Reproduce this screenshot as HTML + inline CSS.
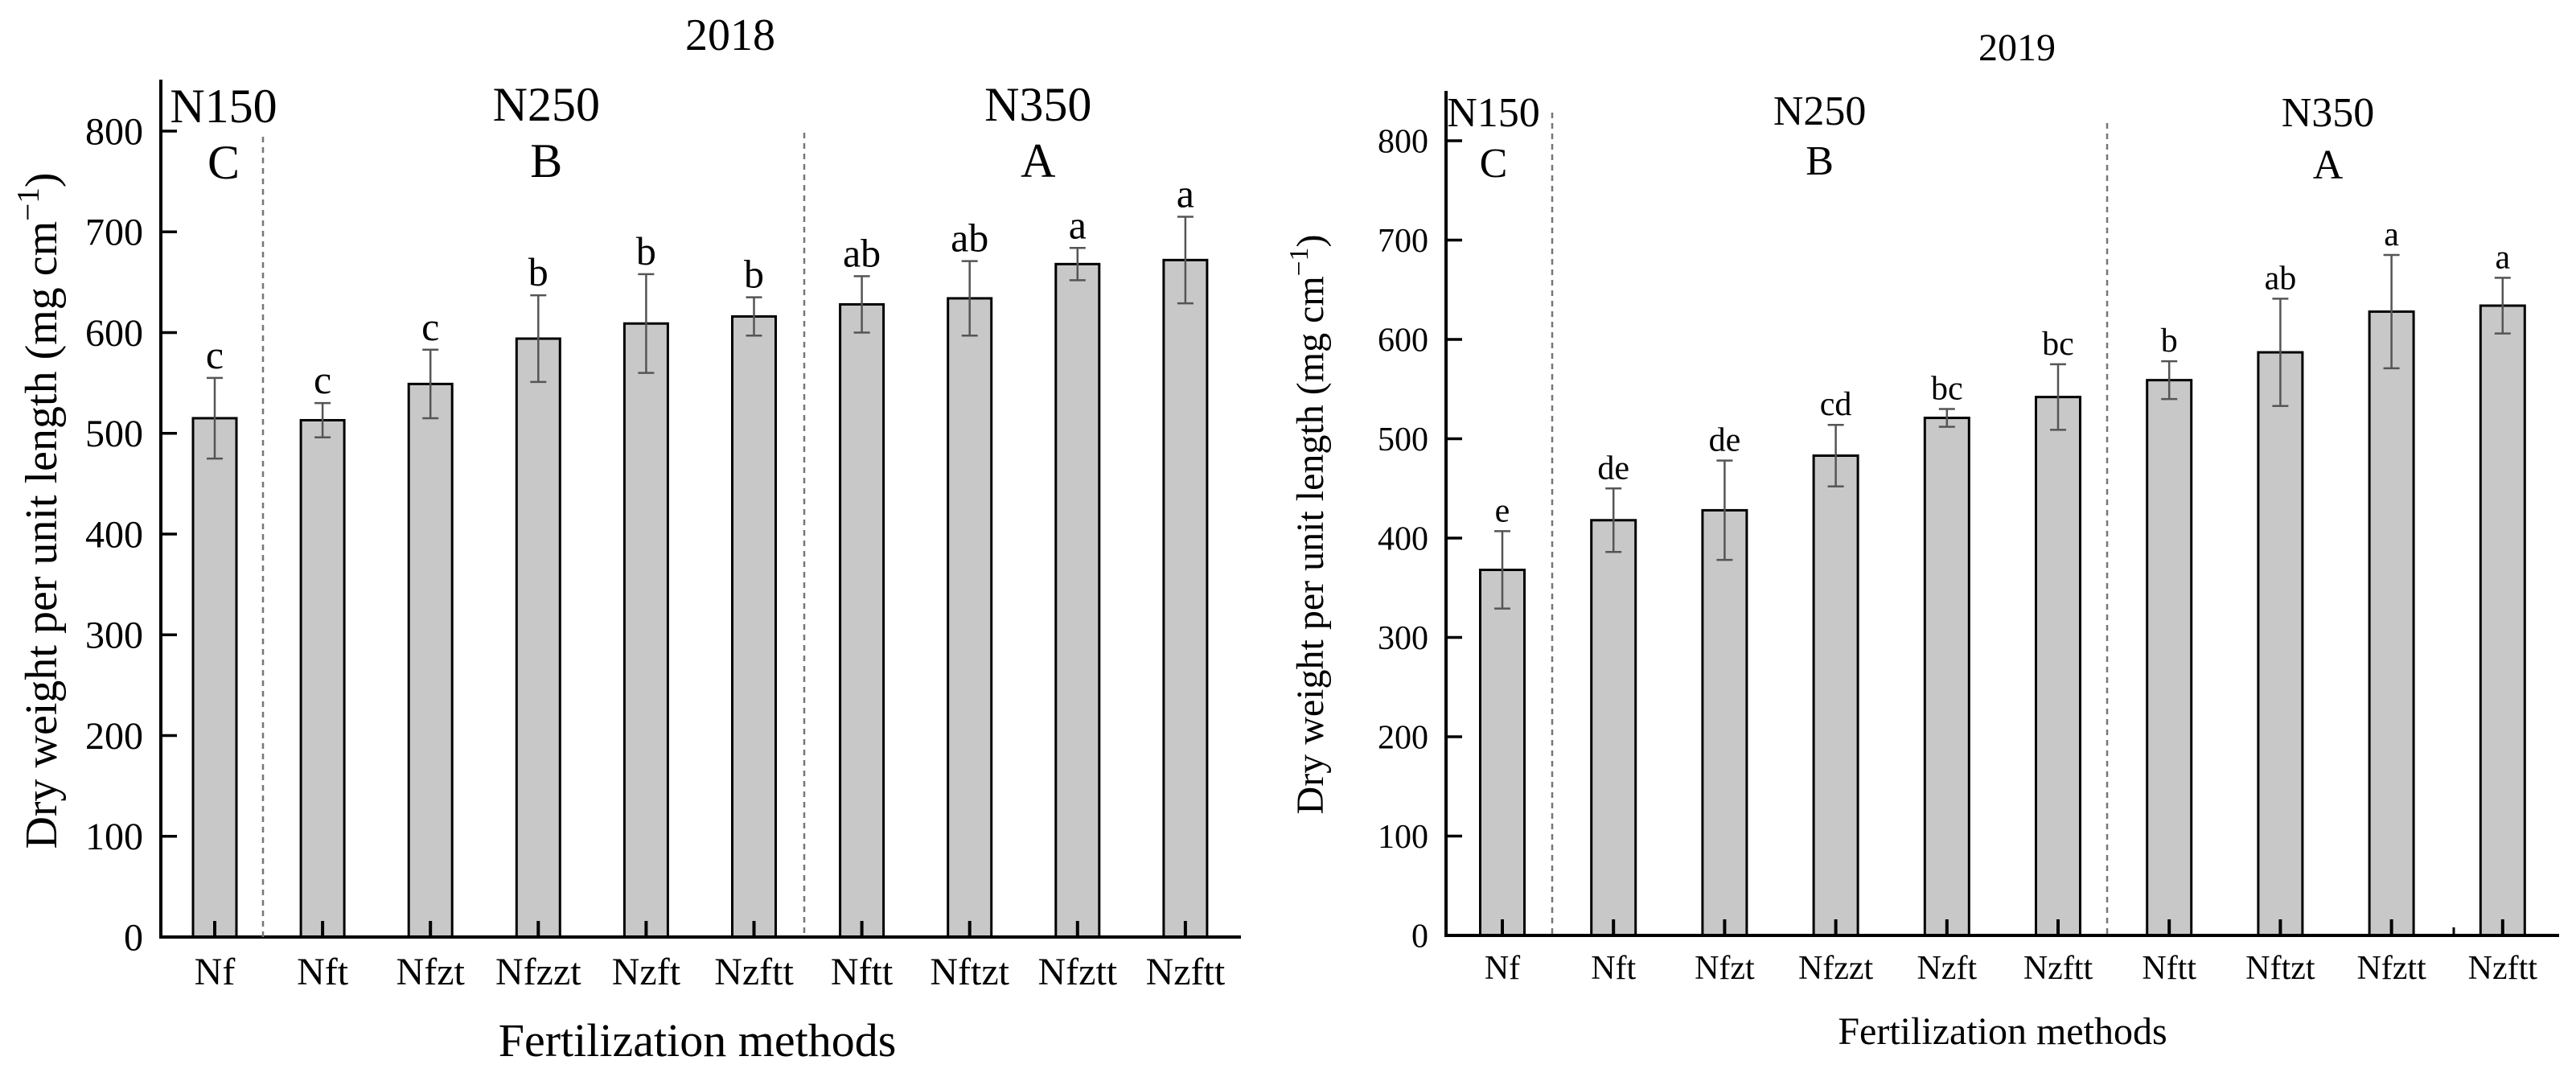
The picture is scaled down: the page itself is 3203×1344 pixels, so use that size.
<!DOCTYPE html>
<html><head><meta charset="utf-8"><style>
body{margin:0;background:#fff}
text{font-family:"Liberation Serif",serif;fill:#000}
</style></head><body>
<svg id="svg" width="3203" height="1339" viewBox="0 0 3203 1339" xmlns="http://www.w3.org/2000/svg"></svg>
<script>
const categories=["Nf","Nft","Nfzt","Nfzzt","Nzft","Nzftt","Nftt","Nftzt","Nfztt","Nzftt"];
const values2018=[515,513,549,594,609,616,628,634,668,672];
const errors2018=[40,17,34,43,49,19,28,37,16,43];
const letters2018=["c","c","c","b","b","b","ab","ab","a","a"];
const values2019=[368,418,428,483,521,542,559,587,628,634];
const errors2019=[39,32,50,31,9,33,19,54,57,28];
const letters2019=["e","de","de","cd","bc","bc","b","ab","a","a"];
const yTicks=[0,100,200,300,400,500,600,700,800];
const groups=[{n:"N150",g:"C",from:0,to:0},{n:"N250",g:"B",from:1,to:5},{n:"N350",g:"A",from:6,to:9}];

const svg=document.getElementById('svg');
const NS="http://www.w3.org/2000/svg";
function mk(tag,attrs,parent,txt){const e=document.createElementNS(NS,tag);for(const k in attrs)e.setAttribute(k,attrs[k]);if(txt!==undefined)e.textContent=txt;(parent||svg).appendChild(e);return e;}

function chart(cfg){
  const g=mk('g',{});
  
  
  const y=v=>cfg.y0-v*cfg.sc;
  const x=i=>cfg.c0+i*cfg.step;
  const t=mk('text',{x:cfg.titleX,y:cfg.titleY,'font-size':cfg.titleFs,'text-anchor':'middle'},g,cfg.title);
  
  
  cfg.vals.forEach((v,i)=>{
    const b=mk('rect',{x:x(i)-cfg.bw/2,y:y(v),width:cfg.bw,height:cfg.y0-y(v),fill:'#c8c8c8',stroke:'#000','stroke-width':3},g);
    
    
    const e=cfg.errs[i];
    const eb=mk('path',{d:`M${x(i)},${y(v+e)}V${y(v-e)}M${x(i)-10},${y(v+e)}H${x(i)+10}M${x(i)-10},${y(v-e)}H${x(i)+10}`,stroke:'#555','stroke-width':2.5,fill:'none'},g);
    
    
    const l=mk('text',{x:x(i),y:y(v+e)-12,'font-size':cfg.letFs,'text-anchor':'middle'},g,cfg.lets[i]);
    
    
    mk('line',{x1:x(i),x2:x(i),y1:cfg.y0,y2:cfg.y0-20,stroke:'#000','stroke-width':4},g);
    const xl=mk('text',{x:x(i),y:cfg.xlY,'font-size':cfg.tickFs,'text-anchor':'middle'},g,categories[i]);
    
    
  });
  const ax=mk('path',{d:`M${cfg.x0},${cfg.top}V${cfg.y0}H${cfg.xEnd}`,stroke:'#000','stroke-width':4,fill:'none'},g);
  
  
  (cfg.extraTicks||[]).forEach(xx=>mk('line',{x1:xx,x2:xx,y1:cfg.y0,y2:cfg.y0-10,stroke:'#000','stroke-width':3},g));
  yTicks.forEach(v=>{
    mk('line',{x1:cfg.x0,x2:cfg.x0+20,y1:y(v),y2:y(v),stroke:'#000','stroke-width':3.5},g);
    const yl=mk('text',{x:cfg.x0-22,y:y(v)+cfg.ytFs*0.34,'font-size':cfg.ytFs,'text-anchor':'end'},g,v);
    
    
  });
  cfg.divs.forEach(d=>{
    const dl=mk('line',{x1:d[0],x2:d[0],y1:d[1],y2:cfg.y0,stroke:'#777','stroke-width':2.5,'stroke-dasharray':'7,6'},g);
    
    
  });
  groups.forEach((gr,k)=>{
    const cx=(x(gr.from)+x(gr.to))/2+(cfg.gOff[k]||0);
    const a=mk('text',{x:cx,y:cfg.gy[k][0],'font-size':cfg.gFs,'text-anchor':'middle'},g,gr.n);
    
    
    const b=mk('text',{x:cx,y:cfg.gy[k][1],'font-size':cfg.gFs,'text-anchor':'middle'},g,gr.g);
    
    
  });
  const xt=mk('text',{x:cfg.xtX,y:cfg.xtY,'font-size':cfg.axFs,'text-anchor':'middle'},g,'Fertilization methods');
  
  
  const yt=mk('text',{x:0,y:0,'font-size':cfg.yFs,'text-anchor':'middle',transform:`translate(${cfg.ytX},${cfg.ytY}) rotate(-90)`},g);
  
  
  yt.appendChild(document.createTextNode('Dry weight per unit length (mg cm'));
  mk('tspan',{dy:-cfg.yFs*0.4,'font-size':cfg.yFs*0.7},yt,'\u2212');
  mk('tspan',{'font-size':cfg.yFs*0.7},yt,'1');
  mk('tspan',{dy:cfg.yFs*0.4},yt,')');
}
chart({name:'chart-2018',title:'2018',titleX:908,titleY:62,titleFs:56,vals:values2018,errs:errors2018,lets:letters2018,
  x0:200,y0:1165,sc:1.2525,top:99,xEnd:1543,c0:267,step:134.1,bw:54,tickFs:48,ytFs:48,letFs:50,gFs:60,xlY:1224,
  divs:[[327,170],[1000,165]],gOff:[11,10,18],gy:[[152,222],[150,220],[150,220]],
  xtX:867,xtY:1313,axFs:58,yFs:56,ytX:70,ytY:635});
chart({name:'chart-2019',title:'2019',titleX:2508,titleY:75,titleFs:48,vals:values2019,errs:errors2019,lets:letters2019,
  x0:1798,y0:1163,sc:1.235,top:113,xEnd:3182,c0:1868,step:138.2,bw:55,tickFs:42,ytFs:42,letFs:42,gFs:52,xlY:1217,
  divs:[[1930,140],[2620,153]],gOff:[-11,-20,-10],gy:[[157,220],[155,217],[157,222]],extraTicks:[3051],
  xtX:2490,xtY:1298,axFs:48,yFs:48,ytX:1645,ytY:652});
</script>
</body></html>
